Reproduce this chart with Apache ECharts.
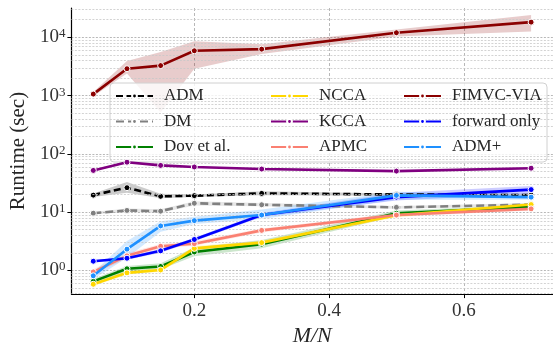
<!DOCTYPE html>
<html>
<head>
<meta charset="utf-8">
<script src="https://cdn.jsdelivr.net/npm/echarts@6/dist/echarts.min.js"></script>
<style>html,body{margin:0;padding:0;background:#fff;}#c{width:553px;height:352px;}</style>
</head>
<body>
<div id="c"></div>
<script>
const xValues = [0.05, 0.1, 0.15, 0.2, 0.3, 0.5, 0.7];

const admMean = [19.6, 26.3, 18.7, 19.2, 21, 20.1, 19.6];
const admLow  = [18.2, 21.5, 17.3, 18.2, 19.6, 19.2, 18.7];
const admHigh = [21, 32.8, 20.6, 20.1, 22.9, 21, 20.6];

const dmMean = [9.6, 10.7, 10.4, 14.2, 13.4, 12.1, 13.5];
const dmLow  = [9.1, 10.1, 9.8, 13, 12.6, 11.4, 12.7];
const dmHigh = [10.1, 11.6, 11.2, 15.4, 14.3, 12.8, 14.4];

const dovMean = [0.65, 1.07, 1.17, 2.07, 2.82, 9.6, 12.3];
const dovLow  = [0.6, 0.96, 1.05, 1.75, 2.4, 8.6, 11.4];
const dovHigh = [0.72, 1.19, 1.33, 2.48, 3.33, 10.7, 13.3];

const nccaMean = [0.58, 0.91, 1.02, 2.39, 3.0, 8.85, 13.5];
const nccaLow  = [0.54, 0.85, 0.95, 2.16, 2.77, 8.2, 12.6];
const nccaHigh = [0.64, 0.98, 1.09, 2.62, 3.23, 9.5, 14.4];

const kccaMean = [52, 72, 63.4, 59.6, 54.9, 50.6, 56.8];
const kccaLow  = [50.1, 69, 61.5, 57.7, 53, 49.2, 54.9];
const kccaHigh = [53.9, 74.7, 65.3, 61.5, 56.8, 52, 58.7];

const apmcMean = [0.945, 1.78, 2.6, 2.88, 4.87, 8.92, 11.4];
const apmcLow  = [0.86, 1.6, 2.37, 2.65, 4.5, 8.36, 10.7];
const apmcHigh = [1.05, 2.0, 2.83, 3.16, 5.24, 9.57, 12.1];

const fimvcMean = [1060, 2890, 3270, 5870, 6260, 11970, 18200];
const fimvcLow  = [975, 2390, 515, 2900, 5170, 10300, 12600];
const fimvcHigh = [1150, 3930, 5590, 8530, 7600, 13600, 24200];

const fwdMean = [1.44, 1.62, 2.17, 3.4, 8.92, 18.1, 24.4];
const fwdLow  = [1.37, 1.53, 2.01, 3.17, 8.27, 15.9, 20.6];
const fwdHigh = [1.51, 1.7, 2.34, 3.63, 9.66, 21.5, 28.1];

const admpMean = [0.81, 2.32, 5.81, 7.16, 8.92, 19.4, 18.1];
const admpLow  = [0.71, 1.65, 4.62, 6.29, 7.62, 16.4, 16.4];
const admpHigh = [0.93, 3.21, 7.01, 8.33, 11.1, 22.4, 20.6];

const legendCol1 = ['ADM', 'DM', 'Dov et al.'];
const legendCol2 = ['NCCA', 'KCCA', 'APMC'];
const legendCol3 = ['FIMVC-VIA', 'forward only', 'ADM+'];

const yMin = 0.393, yMax = 31800;
const xMin = 0.0175, xMax = 0.7325;

// minor log gridlines at 2..9 x 10^k
const minorY = [];
for (let d = -1; d <= 4; d++) {
  for (let k = 2; k <= 9; k++) {
    const v = k * Math.pow(10, d);
    if (v > yMin && v < yMax) minorY.push(v);
  }
}

const methods = [
  {name: 'ADM', color: '#000000', mean: admMean, low: admLow, high: admHigh, dash: [7, 3.5]},
  {name: 'DM', color: '#808080', mean: dmMean, low: dmLow, high: dmHigh, dash: [8, 4]},
  {name: 'Dov et al.', color: '#008000', mean: dovMean, low: dovLow, high: dovHigh},
  {name: 'NCCA', color: '#FFD700', mean: nccaMean, low: nccaLow, high: nccaHigh},
  {name: 'KCCA', color: '#800080', mean: kccaMean, low: kccaLow, high: kccaHigh},
  {name: 'APMC', color: '#FA8072', mean: apmcMean, low: apmcLow, high: apmcHigh},
  {name: 'FIMVC-VIA', color: '#8B0000', mean: fimvcMean, low: fimvcLow, high: fimvcHigh},
  {name: 'forward only', color: '#0000FF', mean: fwdMean, low: fwdLow, high: fwdHigh},
  {name: 'ADM+', color: '#1E90FF', mean: admpMean, low: admpLow, high: admpHigh}
];

function hexA(hex, a) {
  const r = parseInt(hex.slice(1, 3), 16), g = parseInt(hex.slice(3, 5), 16), b = parseInt(hex.slice(5, 7), 16);
  return 'rgba(' + r + ',' + g + ',' + b + ',' + a + ')';
}

const FONT = 'Liberation Serif';
const series = [];

series.push({
  type: 'line', name: '_grid', data: [], silent: true, z: 0,
  markLine: {
    silent: true, symbol: ['none', 'none'], label: {show: false}, animation: false,
    lineStyle: {color: '#c8c8c8', width: 0.8, type: [2, 1.5]},
    data: minorY.map(v => ({yAxis: v}))
  }
});

methods.forEach((m, i) => {
  series.push({
    type: 'custom', name: '_band' + i, silent: true, z: 1,
    data: xValues.map((x, j) => [x, m.low[j], m.high[j]]),
    encode: {x: 0, y: [1, 2]},
    renderItem: function (params, api) {
      if (params.dataIndex !== 0) return null;
      const pts = [];
      for (let j = 0; j < xValues.length; j++) pts.push(api.coord([xValues[j], m.high[j]]));
      for (let j = xValues.length - 1; j >= 0; j--) pts.push(api.coord([xValues[j], m.low[j]]));
      return {type: 'polygon', silent: true, shape: {points: pts}, style: {fill: hexA(m.color, 0.2)}};
    }
  });
});

methods.forEach((m, i) => {
  series.push({
    type: 'line', name: m.name, z: 3 + i,
    data: xValues.map((x, j) => [x, m.mean[j]]),
    symbol: 'circle', symbolSize: 6, showSymbol: true,
    itemStyle: {color: m.color, borderColor: '#ffffff', borderWidth: 1},
    lineStyle: {color: m.color, width: 2.6, type: m.dash ? m.dash : 'solid'}
  });
});

function legendAt(left, names) {
  return {
    data: names, orient: 'vertical', left: left, top: 87, padding: 0,
    itemWidth: 37, itemHeight: 6, itemGap: 7.5, z: 10,
    textStyle: {fontFamily: FONT, fontSize: 17, color: '#262626', lineHeight: 18, padding: [0, 0, 0, 6]},
    selectedMode: false
  };
}

const option = {
  animation: false,
  grid: {left: 68, top: 8, right: -6, bottom: 51, containLabel: false},
  xAxis: {
    type: 'value', min: xMin, max: xMax, splitNumber: 3,
    name: 'M/N', nameLocation: 'middle', nameGap: 28,
    nameTextStyle: {fontFamily: FONT, fontSize: 22, fontStyle: 'italic', color: '#262626'},
    axisLine: {show: true, lineStyle: {color: '#000', width: 1.2}},
    axisTick: {show: true, length: 4, lineStyle: {color: '#000'}},
    axisLabel: {fontFamily: FONT, fontSize: 19, color: '#333', margin: 7, showMinLabel: false, showMaxLabel: false},
    splitLine: {show: true, showMinLine: false, showMaxLine: false, lineStyle: {color: '#b0b0b0', width: 0.9, type: [3, 2]}}
  },
  yAxis: {
    type: 'log', logBase: 10, min: yMin, max: yMax,
    name: 'Runtime (sec)', nameLocation: 'middle', nameGap: 36,
    nameTextStyle: {fontFamily: FONT, fontSize: 21, color: '#262626'},
    axisLine: {show: true, lineStyle: {color: '#000', width: 1.2}},
    axisTick: {show: true, length: 4, lineStyle: {color: '#000'}},
    axisLabel: {
      showMinLabel: false, showMaxLabel: false, margin: 6,
      formatter: function (v) {
        const e = Math.round(Math.log10(v));
        return '{a|10}{b|' + e + '}';
      },
      rich: {
        a: {fontFamily: FONT, fontSize: 19, color: '#333', lineHeight: 20},
        b: {fontFamily: FONT, fontSize: 13, color: '#333', lineHeight: 13, verticalAlign: 'top'}
      }
    },
    splitLine: {show: true, showMinLine: false, showMaxLine: false, lineStyle: {color: '#b0b0b0', width: 0.9, type: [2, 1.5]}}
  },
  legend: [legendAt(115, legendCol1), legendAt(270, legendCol2), legendAt(403, legendCol3)],
  graphic: [{
    type: 'rect', z: 5, silent: true,
    shape: {x: 110, y: 83, width: 437, height: 79, r: 4},
    style: {fill: 'rgba(255,255,255,0.8)', stroke: '#d0d0d0', lineWidth: 1}
  }],
  series: series
};

const chart = echarts.init(document.getElementById('c'), null, {renderer: 'canvas'});
chart.setOption(option);
</script>
</body>
</html>
